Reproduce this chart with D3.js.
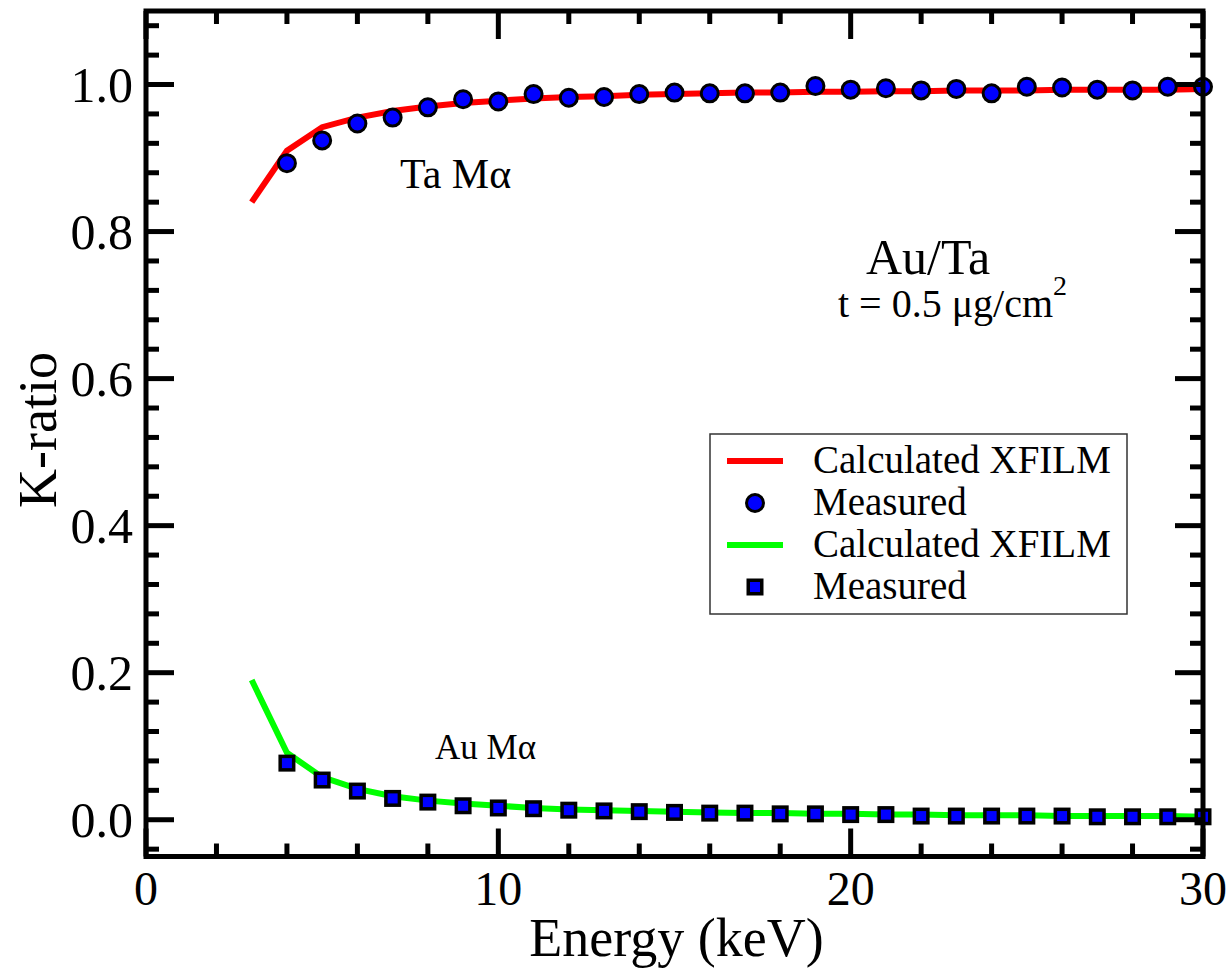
<!DOCTYPE html>
<html>
<head>
<meta charset="utf-8">
<script src="https://cdn.jsdelivr.net/npm/d3@7/dist/d3.min.js"></script>
<style>
  html, body { margin: 0; padding: 0; background: #fff; }
  svg { display: block; }
  text { font-family: "Liberation Serif", "Times New Roman", serif; fill: #000; }
</style>
</head>
<body>
<svg id="chart" width="1232" height="970"></svg>
<script>
// Energies (keV)
const calcEnergy = [3,4,5,6,7,8,9,10,11,12,13,14,15,16,17,18,19,20,21,22,23,24,25,26,27,28,29,30];
const measEnergy = [4,5,6,7,8,9,10,11,12,13,14,15,16,17,18,19,20,21,22,23,24,25,26,27,28,29,30];

// Ta Mα k-ratios
const taCalc = [0.840,0.910,0.942,0.955,0.964,0.970,0.975,0.978,0.981,0.983,0.984,0.986,0.987,0.988,
                0.989,0.989,0.990,0.990,0.991,0.991,0.992,0.992,0.992,0.993,0.993,0.993,0.993,0.994];
const taMeas = [0.893,0.924,0.947,0.955,0.969,0.980,0.977,0.987,0.982,0.983,0.987,0.989,0.988,0.988,
                0.989,0.998,0.993,0.995,0.992,0.994,0.988,0.997,0.996,0.993,0.992,0.997,0.997];

// Au Mα k-ratios
const auCalc = [0.190,0.091,0.058,0.042,0.032,0.026,0.022,0.019,0.016,0.014,0.013,0.012,0.011,0.010,
                0.009,0.009,0.008,0.008,0.007,0.007,0.006,0.006,0.006,0.005,0.005,0.005,0.005,0.004];
const auMeas = [0.077,0.054,0.039,0.029,0.024,0.019,0.016,0.015,0.013,0.012,0.011,0.010,0.009,0.009,
                0.008,0.008,0.007,0.007,0.005,0.005,0.005,0.005,0.005,0.004,0.004,0.004,0.004];

// Axis ticks
const xMajorTicks = [0,10,20,30];
const xMinorTicks = [2,4,6,8,12,14,16,18,22,24,26,28];
const yMajorTicks = [0.0,0.2,0.4,0.6,0.8,1.0];
const yMinorTicks = [-0.04,0.04,0.08,0.12,0.16,0.24,0.28,0.32,0.36,0.44,0.48,0.52,0.56,
                     0.64,0.68,0.72,0.76,0.84,0.88,0.92,0.96,1.04,1.08];

const legendLabels = ["Calculated XFILM","Measured","Calculated XFILM","Measured"];

const svg = d3.select("#chart");
const plotLeft = 146, plotRight = 1203, plotTop = 11, plotBottom = 856.5;

const x = d3.scaleLinear().domain([0,30]).range([plotLeft,plotRight]);
const y = d3.scaleLinear().domain([-0.05,1.1]).range([plotBottom,plotTop]);

const RED = "#ff0000", GREEN = "#00ff00", BLUE = "#0000ff";

// Calculated curves
const line = d3.line().x(d => x(d[0])).y(d => y(d[1]));
svg.append("path")
  .datum(d3.zip(calcEnergy, taCalc))
  .attr("d", line).attr("fill","none").attr("stroke",RED).attr("stroke-width",6);
svg.append("path")
  .datum(d3.zip(calcEnergy, auCalc))
  .attr("d", line).attr("fill","none").attr("stroke",GREEN).attr("stroke-width",6);

// Measured points
svg.append("g").selectAll("circle")
  .data(d3.zip(measEnergy, taMeas)).join("circle")
  .attr("cx", d => x(d[0])).attr("cy", d => y(d[1])).attr("r", 8.5)
  .attr("fill", BLUE).attr("stroke","#000").attr("stroke-width",3);
const sq = 13.5;
svg.append("g").selectAll("rect")
  .data(d3.zip(measEnergy, auMeas)).join("rect")
  .attr("x", d => x(d[0]) - sq/2).attr("y", d => y(d[1]) - sq/2)
  .attr("width", sq).attr("height", sq)
  .attr("fill", BLUE).attr("stroke","#000").attr("stroke-width",3.5);

// Frame with inward ticks on all four sides
const ax = svg.append("g").attr("stroke","#000").attr("stroke-width",5);
const majLen = 28, minLen = 13;
xMajorTicks.forEach(v => {
  ax.append("line").attr("x1",x(v)).attr("x2",x(v)).attr("y1",plotBottom).attr("y2",plotBottom-majLen);
  ax.append("line").attr("x1",x(v)).attr("x2",x(v)).attr("y1",plotTop).attr("y2",plotTop+majLen);
});
xMinorTicks.forEach(v => {
  ax.append("line").attr("x1",x(v)).attr("x2",x(v)).attr("y1",plotBottom).attr("y2",plotBottom-minLen);
  ax.append("line").attr("x1",x(v)).attr("x2",x(v)).attr("y1",plotTop).attr("y2",plotTop+minLen);
});
yMajorTicks.forEach(v => {
  ax.append("line").attr("x1",plotLeft).attr("x2",plotLeft+majLen).attr("y1",y(v)).attr("y2",y(v));
  ax.append("line").attr("x1",plotRight).attr("x2",plotRight-majLen).attr("y1",y(v)).attr("y2",y(v));
});
yMinorTicks.forEach(v => {
  ax.append("line").attr("x1",plotLeft).attr("x2",plotLeft+minLen).attr("y1",y(v)).attr("y2",y(v));
  ax.append("line").attr("x1",plotRight).attr("x2",plotRight-minLen).attr("y1",y(v)).attr("y2",y(v));
});
ax.append("rect").attr("x",plotLeft).attr("y",plotTop)
  .attr("width",plotRight-plotLeft).attr("height",plotBottom-plotTop)
  .attr("fill","none");

// Tick labels
svg.append("g").selectAll("text").data(xMajorTicks).join("text")
  .attr("x", d => x(d)).attr("y", 905).attr("text-anchor","middle")
  .style("font-size","48px").text(d => d3.format("d")(d));
svg.append("g").selectAll("text").data(yMajorTicks).join("text")
  .attr("x", 133).attr("y", d => y(d) + 17).attr("text-anchor","end")
  .style("font-size","50px").text(d => d3.format(".1f")(d));

// Axis titles
svg.append("text").attr("x", (plotLeft+plotRight)/2 + 2).attr("y", 956).attr("text-anchor","middle")
  .style("font-size","54px").text("Energy (keV)");
svg.append("text").attr("transform","translate(56,430) rotate(-90)").attr("text-anchor","middle")
  .style("font-size","54px").text("K-ratio");

// Annotations
svg.append("text").attr("x",400).attr("y",188).style("font-size","42px").text("Ta Mα");
svg.append("text").attr("x",435).attr("y",759).style("font-size","35px").text("Au Mα");
svg.append("text").attr("x",866).attr("y",274).style("font-size","50px").text("Au/Ta");
const t = svg.append("text").attr("x",838).attr("y",317).style("font-size","40px");
t.append("tspan").text("t = 0.5 μg/cm");
t.append("tspan").attr("dy",-22).style("font-size","28px").text("2");

// Legend
const lg = svg.append("g");
lg.append("rect").attr("x",710).attr("y",434).attr("width",417).attr("height",180)
  .attr("fill","#fff").attr("stroke","#333").attr("stroke-width",1.5);
const rows = [461,503,545,587];
lg.append("line").attr("x1",727).attr("x2",783).attr("y1",rows[0]).attr("y2",rows[0])
  .attr("stroke",RED).attr("stroke-width",6);
lg.append("circle").attr("cx",755).attr("cy",rows[1]).attr("r",8.5)
  .attr("fill",BLUE).attr("stroke","#000").attr("stroke-width",3);
lg.append("line").attr("x1",727).attr("x2",783).attr("y1",rows[2]).attr("y2",rows[2])
  .attr("stroke",GREEN).attr("stroke-width",6);
lg.append("rect").attr("x",755-sq/2).attr("y",rows[3]-sq/2).attr("width",sq).attr("height",sq)
  .attr("fill",BLUE).attr("stroke","#000").attr("stroke-width",3.5);
lg.selectAll("text.lbl").data(legendLabels).join("text").attr("class","lbl")
  .attr("x",813).attr("y",(d,i) => rows[i] + 12).style("font-size","39px").text(d => d);
</script>
</body>
</html>
